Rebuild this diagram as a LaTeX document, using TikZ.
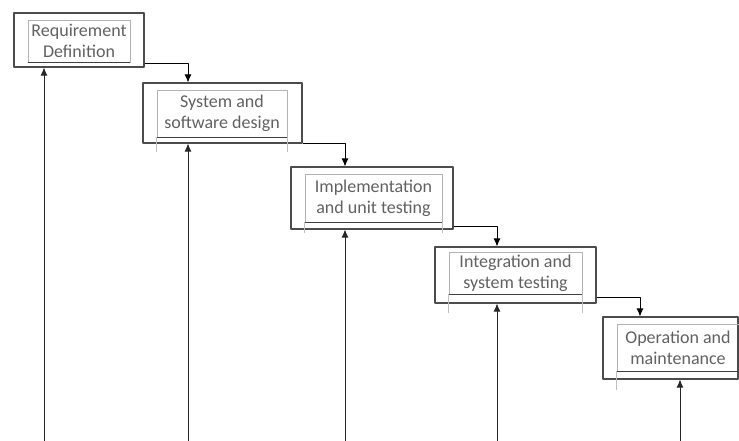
\documentclass[tikz,border=0pt]{standalone}
\usepackage{fontspec}
\setmainfont{Carlito}
\usetikzlibrary{arrows.meta}
\begin{document}
\begin{tikzpicture}[>={Latex[length=8bp,width=7bp]},line join=bevel,
  outer/.style={draw=black!70,line width=1.1bp,inner sep=0bp},
  inner/.style={draw=black!30,line width=0.6bp,inner sep=0bp,text=black!62,align=center,
    font=\fontsize{18bp}{21bp}\selectfont},]
\clip (0bp,0bp) rectangle (739bp,-441bp);
%%
\node (stage_1) at (79.0bp,-40.0bp) [outer,minimum width=130bp,minimum height=54bp] {};
  \node (text_1) at (79.0bp,-41.0bp) [inner,minimum width=102bp,minimum height=42bp] {Requirement\\Definition};
  \node (stage_2) at (222.5bp,-113.0bp) [outer,minimum width=159bp,minimum height=60bp] {};
  \node (text_2) at (222.0bp,-113.5bp) [inner,minimum width=130bp,minimum height=47bp] {System and\\software design};
  \node (stage_3) at (372.0bp,-198.0bp) [outer,minimum width=162bp,minimum height=62bp] {};
  \node (text_3) at (373.5bp,-198.0bp) [inner,minimum width=137bp,minimum height=48bp] {Implementation\\and unit testing};
  \node (stage_4) at (515.5bp,-275.0bp) [outer,minimum width=161bp,minimum height=56bp] {};
  \node (text_4) at (515.5bp,-273.0bp) [inner,minimum width=133bp,minimum height=42bp] {Integration and\\system testing};
  \node (stage_5) at (670.5bp,-348.0bp) [outer,minimum width=135bp,minimum height=62bp] {};
  \node (text_5) at (678.0bp,-347.5bp) [inner,minimum width=122bp,minimum height=47bp] {Operation and\\maintenance};
%
\foreach \k in {1,...,5} {
  \draw [black!75,line width=0.8bp] (text_\k.south west) -- (text_\k.south east);
}
\foreach \k/\len in {2/15,3/11,4/19,5/19} {
  \draw [black!25,line width=0.6bp] (text_\k.south west) -- ++(0bp,-\len bp);
  \draw [black!25,line width=0.6bp] (text_\k.south east) -- ++(0bp,-\len bp);
}
%
\coordinate (foot_1) at (44.0bp,-441.0bp);
  \coordinate (foot_2) at (188.0bp,-441.0bp);
  \coordinate (foot_3) at (345.0bp,-441.0bp);
  \coordinate (foot_4) at (497.0bp,-441.0bp);
  \coordinate (foot_5) at (680.0bp,-441.0bp);
  \coordinate (drop_5) at (640.0bp,-441.0bp);
%
\draw [black,line width=0.9bp,->] ([yshift=4bp]stage_1.south east) -| (foot_2 |- stage_2.north);
  \draw [black,line width=0.9bp,->] ([yshift=0bp]stage_2.south east) -| (foot_3 |- stage_3.north);
  \draw [black,line width=0.9bp,->] ([yshift=3bp]stage_3.south east) -| (foot_4 |- stage_4.north);
  \draw [black,line width=0.9bp,->] ([yshift=6bp]stage_4.south east) -| (drop_5 |- stage_5.north);
%
\foreach \k in {1,...,5} {
  \draw [black!85,line width=0.9bp,->] (foot_\k) -- (foot_\k |- stage_\k.south);
}
%
\end{tikzpicture}
\end{document}
